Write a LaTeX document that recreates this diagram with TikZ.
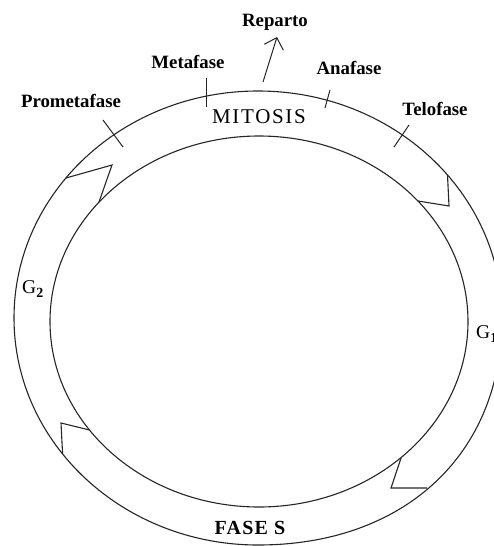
\documentclass[tikz,border=0pt]{standalone}
\usepackage{fontspec}
\setmainfont{Liberation Serif}
\usetikzlibrary{arrows.meta}
\begin{document}
\begin{tikzpicture}[x=1pt,y=-1pt,
  ring/.style={draw=black!85, line width=1.1pt},
  tickmark/.style={draw=black!85, line width=1pt},
  lbl/.style={inner sep=0pt, font=\fontsize{18.8}{20}\selectfont\bfseries},
  big/.style={inner sep=0pt, font=\fontsize{21}{23}\selectfont\addfontfeature{LetterSpace=8}},
  gl/.style={inner sep=0pt, font=\fontsize{19.5}{21}\selectfont}]
\useasboundingbox (0,0) rectangle (494,546);
\clip (0,0) rectangle (494,546);
\fill[white] (0,0) rectangle (494,546);
% outer ring
\draw[ring] (502,318) .. controls (502,192.6) and (392.8,91) .. (258,91)
  .. controls (123.2,91) and (14,192.6) .. (14,318)
  .. controls (14,443.4) and (123.2,545) .. (258,545)
  .. controls (404.4,545) and (502,454.2) .. (502,318) -- cycle;
% inner ring
\draw[ring] (259,321.5) ellipse [x radius=209, y radius=185.5];
% notches
\coordinate (n1o) at (66,178); \coordinate (n1t) at (112,165); \coordinate (n1i) at (99,202);
\coordinate (n2o) at (447.5,175); \coordinate (n2t) at (449,206); \coordinate (n2i) at (418,201);
\coordinate (n3o) at (62.6,454); \coordinate (n3t) at (61,423); \coordinate (n3i) at (89.5,430);
\coordinate (n4i) at (401,458); \coordinate (n4t) at (391,488); \coordinate (n4o) at (427,488);
\draw[ring, line join=miter] (n1o) -- (n1t) -- (n1i);
\draw[ring, line join=miter] (n2o) -- (n2t) -- (n2i);
\draw[ring, line join=miter] (n3o) -- (n3t) -- (n3i);
\draw[ring, line join=miter] (n4i) -- (n4t) -- (n4o);
% ticks
\coordinate (t1a) at (103,120); \coordinate (t1b) at (123,147);
\coordinate (t2a) at (206,78);  \coordinate (t2b) at (206,107);
\coordinate (t3a) at (330,90);  \coordinate (t3b) at (325,108);
\coordinate (t4a) at (409,125); \coordinate (t4b) at (394,147);
\draw[tickmark] (t1a) -- (t1b);
\draw[tickmark] (t2a) -- (t2b);
\draw[tickmark] (t3a) -- (t3b);
\draw[tickmark] (t4a) -- (t4b);
% reparto arrow
\coordinate (rs) at (263,82);
\coordinate (rt) at (277,37);
\draw[tickmark, -{Straight Barb[length=10pt,width=20pt,line width=1pt]}] (rs) -- (rt);
% labels
\node[lbl] (reparto) at (275,22) {Reparto};
\node[lbl] (meta) at (188,62) {Metafase};
\node[lbl] (ana) at (349,68) {Anafase};
\node[lbl] (prometa) at (71,101) {Prometafase};
\node[lbl] (telo) at (435,109) {Telofase};
\node[big] (mitosis) at (259,117) {MITOSIS};
\node[inner sep=0pt, font=\fontsize{20}{22}\selectfont\bfseries\addfontfeature{LetterSpace=6}] (fases) at (250,528) {FASE S};
\node[gl, anchor=west] (g2) at (22,289) {G\raisebox{-4pt}{\fontsize{14}{15}\selectfont\bfseries 2}};
\node[gl, anchor=west] (g1) at (476,334) {G\raisebox{-4pt}{\fontsize{14}{15}\selectfont\bfseries 1}};
\end{tikzpicture}
\end{document}
